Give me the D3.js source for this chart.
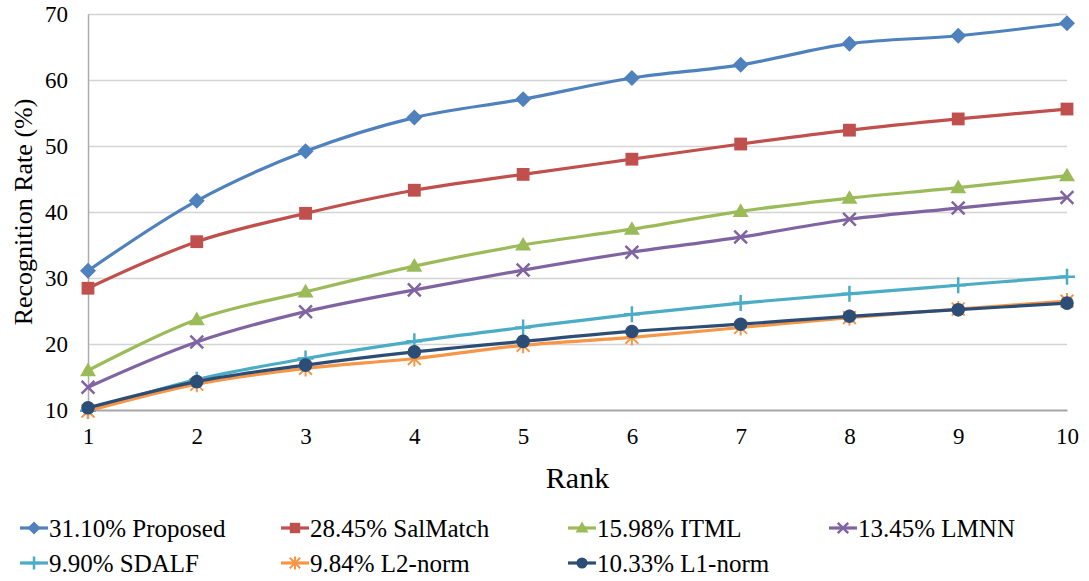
<!DOCTYPE html>
<meta charset="utf-8">
<script src="https://d3js.org/d3.v7.min.js"></script>
<style>
  body { margin: 0; background: #fff; }
  svg text { font-family: "Liberation Serif", "Times New Roman", serif !important; fill: #000; }
</style>
<body>
<div id="chart"></div>
<script>
// ranks on the x axis
const ranks = [1, 2, 3, 4, 5, 6, 7, 8, 9, 10];
const yTicks = [10, 20, 30, 40, 50, 60, 70];

// series names as in the legend
const seriesNames = ["31.10% Proposed", "28.45% SalMatch", "15.98% ITML", "13.45% LMNN",
                     "9.90% SDALF", "9.84% L2-norm", "10.33% L1-norm"];

// recognition rate (%) per rank
const proposed = [31.10, 41.7, 49.2, 54.3, 57.1, 60.3, 62.3, 65.5, 66.7, 68.6];
const salMatch = [28.45, 35.5, 39.8, 43.3, 45.7, 48.0, 50.3, 52.4, 54.1, 55.6];
const itml     = [15.98, 23.7, 27.9, 31.8, 35.0, 37.4, 40.1, 42.1, 43.7, 45.5];
const lmnn     = [13.45, 20.3, 24.9, 28.2, 31.2, 33.9, 36.2, 38.9, 40.6, 42.2];
const sdalf    = [9.90, 14.6, 17.8, 20.4, 22.5, 24.5, 26.2, 27.6, 28.9, 30.2];
const l2norm   = [9.84, 13.9, 16.3, 17.8, 19.8, 21.0, 22.5, 24.0, 25.3, 26.5];
const l1norm   = [10.33, 14.3, 16.8, 18.8, 20.4, 21.9, 23.0, 24.2, 25.2, 26.2];

const colors  = ["#4F81BD", "#C0504D", "#9BBB59", "#8064A2", "#4BACC6", "#F79646", "#2C4D75"];
const markers = ["diamond", "square", "triangle", "cross", "plus", "star", "circle"];

const allSeries = [proposed, salMatch, itml, lmnn, sdalf, l2norm, l1norm].map((vals, i) => ({
  name: seriesNames[i], color: colors[i], marker: markers[i],
  points: vals.map((v, j) => ({rank: ranks[j], value: v}))
}));

const W = 1089, H = 581;
const margin = {top: 14, right: 22, bottom: 171, left: 88};
const width = W - margin.left - margin.right,
      height = H - margin.top - margin.bottom;
const serif = "'Liberation Serif', 'Times New Roman', serif";

const svg = d3.select("#chart").append("svg")
    .attr("width", W).attr("height", H);
const g = svg.append("g")
    .attr("transform", `translate(${margin.left},${margin.top})`);

const x = d3.scaleLinear().domain([1, 10]).range([0, width]);
const y = d3.scaleLinear().domain([10, 70]).range([height, 0]);

// gridlines
g.append("g")
  .call(d3.axisLeft(y).tickValues(yTicks.slice(1)).tickSize(-width).tickFormat(""))
  .call(a => a.select(".domain").remove())
  .selectAll("line").attr("stroke", "#D4D4D4").attr("stroke-width", 1.5);

// y axis
g.append("g")
  .call(d3.axisLeft(y).tickValues(yTicks).tickSize(0).tickPadding(20))
  .attr("font-family", serif)
  .call(a => a.select(".domain").attr("stroke", "#ABABAB").attr("stroke-width", 1.5))
  .selectAll("text").style("font-size", "23px").style("font-family", serif).attr("dy", "0.33em");

// x axis
g.append("g")
  .attr("transform", `translate(0,${height})`)
  .call(d3.axisBottom(x).tickValues(ranks).tickSize(0).tickPadding(18).tickFormat(d3.format("d")))
  .attr("font-family", serif)
  .call(a => a.select(".domain").attr("stroke", "#A6A6A6").attr("stroke-width", 2))
  .selectAll("text").style("font-size", "23px").style("font-family", serif);

// axis titles
svg.append("text")
  .attr("transform", "translate(32,212) rotate(-90)")
  .attr("text-anchor", "middle")
  .style("font-family", serif)
  .style("font-size", "26px")
  .text("Recognition Rate (%)");

svg.append("text")
  .attr("x", margin.left + width / 2).attr("y", 488)
  .attr("text-anchor", "middle")
  .style("font-family", serif)
  .style("font-size", "30px")
  .text("Rank");

function drawMarker(sel, type, color, s) {
  if (type === "diamond") {
    sel.append("path").attr("d", `M0,${-s}L${s},0L0,${s}L${-s},0Z`).attr("fill", color);
  } else if (type === "square") {
    sel.append("rect").attr("x", -s * 0.8).attr("y", -s * 0.8)
      .attr("width", s * 1.6).attr("height", s * 1.6).attr("fill", color);
  } else if (type === "triangle") {
    sel.append("path").attr("d", `M0,${-s}L${s},${s * 0.7}L${-s},${s * 0.7}Z`).attr("fill", color);
  } else if (type === "cross") {
    sel.append("path").attr("d", `M${-s*0.8},${-s*0.8}L${s*0.8},${s*0.8}M${-s*0.8},${s*0.8}L${s*0.8},${-s*0.8}`)
      .attr("stroke", color).attr("stroke-width", 2.5);
  } else if (type === "plus") {
    sel.append("path").attr("d", `M${-s},0L${s},0M0,${-s}L0,${s}`)
      .attr("stroke", color).attr("stroke-width", 2.5);
  } else if (type === "star") {
    sel.append("path").attr("d", `M${-s*0.8},${-s*0.8}L${s*0.8},${s*0.8}M${-s*0.8},${s*0.8}L${s*0.8},${-s*0.8}M0,${-s}L0,${s}`)
      .attr("stroke", color).attr("stroke-width", 2);
  } else if (type === "circle") {
    sel.append("circle").attr("r", s * 0.85).attr("fill", color);
  }
}

const line = d3.line()
  .x(d => x(d.rank))
  .y(d => y(d.value))
  .curve(d3.curveCatmullRom.alpha(0.5));

allSeries.forEach(s => {
  const sg = g.append("g");
  sg.append("path")
    .datum(s.points)
    .attr("fill", "none")
    .attr("stroke", s.color)
    .attr("stroke-width", 3.2)
    .attr("d", line);
  s.points.forEach(p => {
    const m = sg.append("g").attr("transform", `translate(${x(p.rank)},${y(p.value)})`);
    drawMarker(m, s.marker, s.color, 8);
  });
});

// legend
const legendPos = [[20, 528], [281, 528], [568, 528], [829, 528],
                   [20, 563], [281, 563], [568, 563]];
allSeries.forEach((s, i) => {
  const lg = svg.append("g").attr("transform", `translate(${legendPos[i][0]},${legendPos[i][1]})`);
  lg.append("line").attr("x1", 0).attr("x2", 28).attr("stroke", s.color).attr("stroke-width", 3.2);
  const m = lg.append("g").attr("transform", "translate(14,0)");
  drawMarker(m, s.marker, s.color, 6.5);
  lg.append("text").attr("x", 29).attr("dy", "0.35em")
    .style("font-family", serif)
    .style("font-size", "25px").text(s.name);
});
</script>
</body>
